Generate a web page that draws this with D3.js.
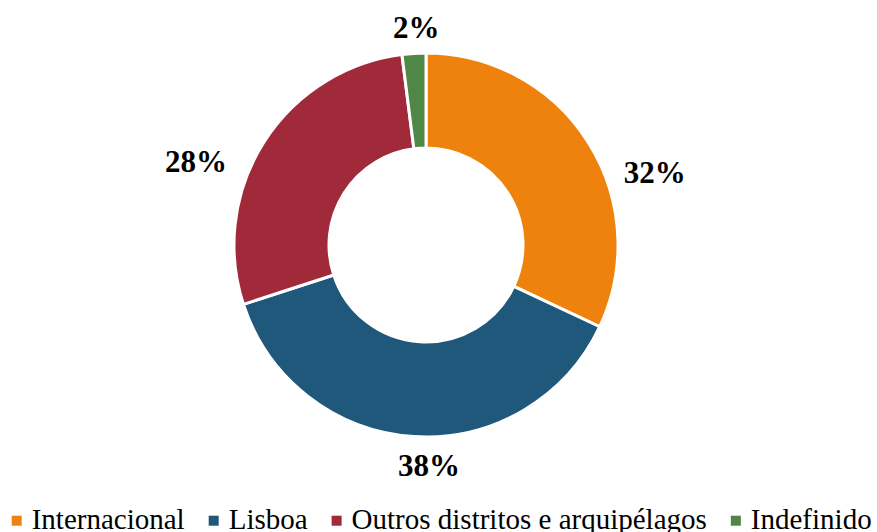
<!DOCTYPE html>
<html lang="pt">
<head>
<meta charset="UTF-8">
<title>Donut</title>
<script src="https://cdnjs.cloudflare.com/ajax/libs/d3/7.8.5/d3.min.js"></script>
<style>
    body {
        margin: 0;
        background: white;
    }
</style>
</head>
<body>
<script>
    // data
    var categories = ["Internacional", "Lisboa", "Outros distritos e arquipélagos", "Indefinido"];
    var values = [32, 38, 28, 2];
    var colors = ["#EF820C", "#1F587A", "#A0293A", "#508646"];

    var width = 877,
        height = 532;
    var cx = 426,
        cy = 245,
        rOut = 192,
        rIn = 97;
    var serif = "'Liberation Serif', 'Times New Roman', Tinos, serif";

    // label placement (polar, degrees from top, clockwise) - Excel best fit
    var labelPolar = [
        [72.3, 240],
        [179.2, 220],
        [290.1, 245],
        [357.4, 218]
    ];

    var svg = d3.select("body").append("svg")
        .attr("width", width)
        .attr("height", height);

    var g = svg.append("g")
        .attr("transform", "translate(" + cx + "," + cy + ")");

    var pie = d3.pie().sort(null).value(function(d) { return d; });
    var arc = d3.arc().innerRadius(rIn).outerRadius(rOut);
    var arcs = pie(values);

    g.selectAll("path.slice")
        .data(arcs)
        .enter().append("path")
        .attr("class", "slice")
        .attr("d", arc)
        .attr("fill", function(d, i) { return colors[i]; })
        .attr("stroke", "#fff")
        .attr("stroke-width", 3)
        .attr("stroke-linejoin", "miter");

    g.selectAll("text.lbl")
        .data(arcs)
        .enter().append("text")
        .attr("class", "lbl")
        .attr("font-family", serif)
        .attr("font-weight", "bold")
        .attr("font-size", 31)
        .attr("text-anchor", "middle")
        .attr("dy", "0.35em")
        .attr("x", function(d, i) {
            var a = labelPolar[i][0] * Math.PI / 180;
            return labelPolar[i][1] * Math.sin(a);
        })
        .attr("y", function(d, i) {
            var a = labelPolar[i][0] * Math.PI / 180;
            return -labelPolar[i][1] * Math.cos(a);
        })
        .text(function(d) { return d.data + "%"; });

    // legend
    var legend = svg.append("g").attr("class", "legend");
    var lx = 11.7;
    categories.forEach(function(c, i) {
        var item = legend.append("g").attr("transform", "translate(" + lx + ",0)");
        item.append("rect")
            .attr("x", 0)
            .attr("y", 515.7)
            .attr("width", 10)
            .attr("height", 10)
            .attr("fill", colors[i]);
        var t = item.append("text")
            .attr("font-family", serif)
            .attr("font-size", 29)
            .attr("x", 20)
            .attr("y", 528.7)
            .text(c);
        lx += 20 + t.node().getComputedTextLength() + 24;
    });
</script>
</body>
</html>
